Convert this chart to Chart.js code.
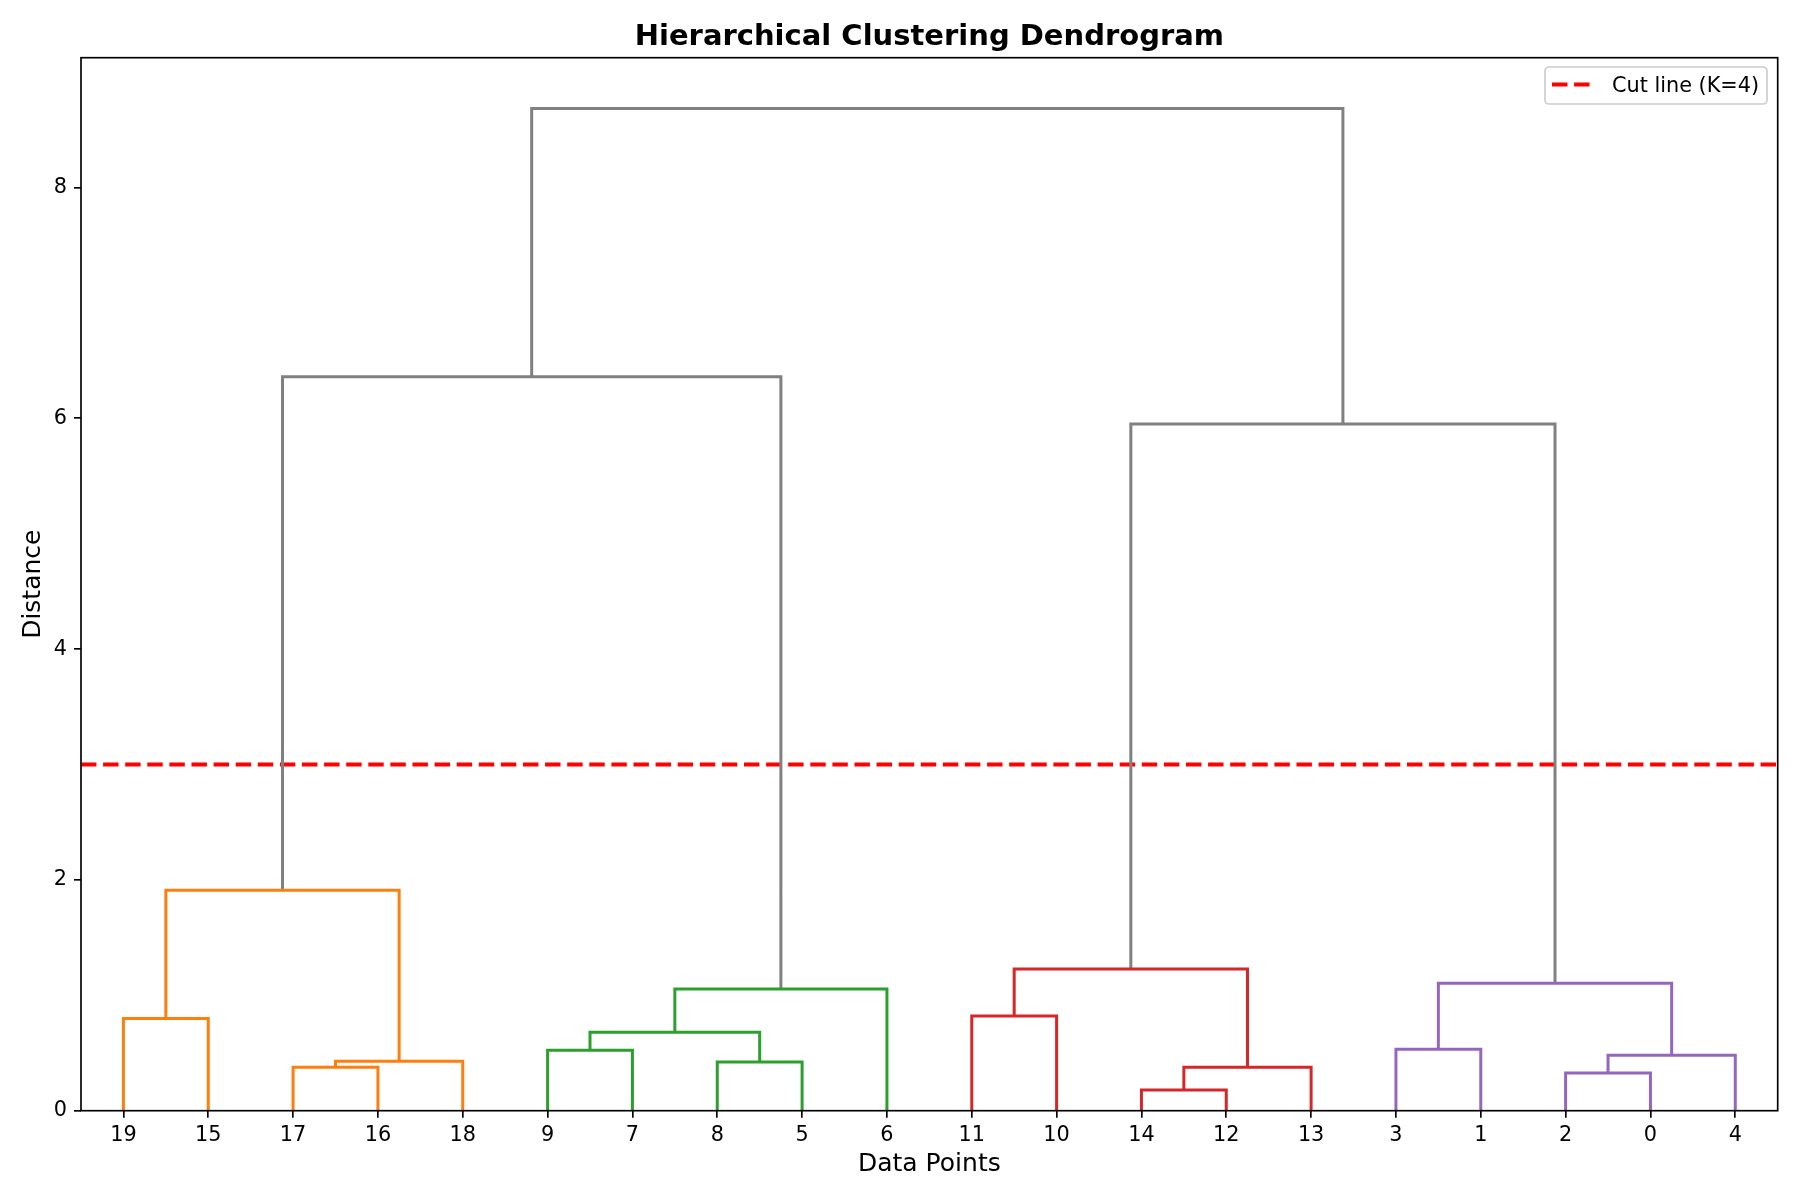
<!DOCTYPE html>
<html>
<head>
<meta charset="utf-8">
<title>Hierarchical Clustering Dendrogram</title>
<script src="https://cdn.jsdelivr.net/npm/chart.js@4.4.1/dist/chart.umd.min.js"></script>
<style>
  html, body { margin: 0; padding: 0; background: #fff; }
  #wrap { width: 1800px; height: 1200px; }
</style>
</head>
<body>
<div id="wrap"><canvas id="dendro" width="1800" height="1200"></canvas></div>
<script>
// leaf order along the x axis (as shown)
const leafLabels = ["19", "15", "17", "16", "18", "9", "7", "8", "5", "6",
                    "11", "10", "14", "12", "13", "3", "1", "2", "0", "4"];

// merges: left child, right child, height, colour group  ("cN" = result of merge N)
const mergeLeft   = ["14", "2",  "17", "c0", "8",  "c2", "c1", "9",  "3",  "c7",
                     "19", "11", "c9", "c8", "c11", "c10", "c14", "c15", "c17"];
const mergeRight  = ["12", "0",  "16", "13", "5",  "18", "4",  "7",  "1",  "c4",
                     "15", "10", "6",  "c6", "c3",  "c5",  "c13", "c12", "c16"];
const mergeHeight = [0.179, 0.327, 0.376, 0.377, 0.422, 0.428, 0.480, 0.523, 0.532, 0.679,
                     0.80, 0.82, 1.055, 1.104, 1.228, 1.91, 5.95, 6.36, 8.685];
const mergeGroup  = ["red", "purple", "orange", "red", "green", "orange", "purple", "green", "purple", "green",
                     "orange", "red", "green", "purple", "red", "orange", "gray", "gray", "gray"];

// cut line
const cutHeight = 3;
const cutLabel = "Cut line (K=4)";

const yTicks = [0, 2, 4, 6, 8];
const yMax = 9.125;

const groupColors = {
    orange: "#ff7f0e",
    green: "#2ca02c",
    red: "#d62728",
    purple: "#9467bd",
    gray: "#808080"
};

const FONT = "'DejaVu Sans', 'Liberation Sans', sans-serif";

// leaves sit at 5, 15, 25 ... like scipy does
const nodeX = {};
const nodeY = {};
leafLabels.forEach((lab, i) => {
    nodeX[lab] = 5 + 10 * i;
    nodeY[lab] = 0;
});

const datasets = [];
mergeLeft.forEach((l, i) => {
    const r = mergeRight[i];
    const h = mergeHeight[i];
    const id = "c" + i;
    nodeX[id] = (nodeX[l] + nodeX[r]) / 2;
    nodeY[id] = h;
    datasets.push({
        label: "link " + id,
        data: [
            { x: nodeX[l], y: nodeY[l] },
            { x: nodeX[l], y: h },
            { x: nodeX[r], y: h },
            { x: nodeX[r], y: nodeY[r] }
        ],
        showLine: true,
        borderColor: groupColors[mergeGroup[i]],
        borderWidth: 3,
        pointRadius: 0,
        tension: 0,
        borderCapStyle: "butt",
        borderJoinStyle: "miter"
    });
});

// horizontal cut line
datasets.push({
    label: cutLabel,
    data: [{ x: 0, y: cutHeight }, { x: leafLabels.length * 10, y: cutHeight }],
    showLine: true,
    borderColor: "#ff0000",
    borderWidth: 4.2,
    borderDash: [15.4, 6.7],
    pointRadius: 0
});

// title, frame and legend box, drawn like matplotlib
const decoPlugin = {
    id: "deco",
    afterDraw(chart) {
        const ctx = chart.ctx;
        const a = chart.chartArea;
        ctx.save();

        // axes frame
        ctx.strokeStyle = "#000";
        ctx.lineWidth = 1.67;
        ctx.strokeRect(a.left, a.top, a.right - a.left, a.bottom - a.top);

        // title
        ctx.fillStyle = "#000";
        ctx.font = "bold 29px " + FONT;
        ctx.textAlign = "center";
        ctx.textBaseline = "alphabetic";
        ctx.fillText("Hierarchical Clustering Dendrogram", (a.left + a.right) / 2, 45);

        // legend
        const bx = 1545, by = 67, bw = 222, bh = 37, rad = 4;
        ctx.beginPath();
        ctx.moveTo(bx + rad, by);
        ctx.arcTo(bx + bw, by, bx + bw, by + bh, rad);
        ctx.arcTo(bx + bw, by + bh, bx, by + bh, rad);
        ctx.arcTo(bx, by + bh, bx, by, rad);
        ctx.arcTo(bx, by, bx + bw, by, rad);
        ctx.closePath();
        ctx.fillStyle = "rgba(255,255,255,0.8)";
        ctx.fill();
        ctx.strokeStyle = "#cccccc";
        ctx.lineWidth = 1.67;
        ctx.stroke();

        const cut = chart.data.datasets[chart.data.datasets.length - 1];
        ctx.beginPath();
        ctx.setLineDash(cut.borderDash);
        ctx.strokeStyle = cut.borderColor;
        ctx.lineWidth = cut.borderWidth;
        ctx.moveTo(1552, 84.5);
        ctx.lineTo(1593, 84.5);
        ctx.stroke();
        ctx.setLineDash([]);

        ctx.fillStyle = "#000";
        ctx.font = "20.8px " + FONT;
        ctx.textAlign = "left";
        ctx.fillText(cut.label, 1612, 92);

        ctx.restore();
    }
};

new Chart(document.getElementById("dendro"), {
    type: "scatter",
    data: { datasets: datasets },
    options: {
        responsive: false,
        animation: false,
        layout: { padding: { top: 57.7, right: 22.3, bottom: 0, left: 0 } },
        plugins: {
            legend: { display: false },
            title: { display: false },
            tooltip: { enabled: false }
        },
        scales: {
            x: {
                type: "linear",
                min: 0,
                max: leafLabels.length * 10,
                afterFit(scale) { scale.height = 89.3; },
                afterBuildTicks(scale) {
                    scale.ticks = leafLabels.map((lab, i) => ({ value: 5 + 10 * i }));
                },
                ticks: {
                    autoSkip: false,
                    maxRotation: 0,
                    padding: 5,
                    color: "#000",
                    font: { family: FONT, size: 20.8 },
                    callback: (value) => leafLabels[Math.round((value - 5) / 10)]
                },
                grid: {
                    drawOnChartArea: false,
                    drawTicks: true,
                    tickLength: 7,
                    color: "#000",
                    lineWidth: 1.67
                },
                border: { display: false },
                title: {
                    display: true,
                    text: "Data Points",
                    color: "#000",
                    font: { family: FONT, size: 25 },
                    padding: { top: 0, bottom: 21 }
                }
            },
            y: {
                type: "linear",
                min: 0,
                max: yMax,
                afterFit(scale) { scale.width = 81; },
                afterBuildTicks(scale) {
                    scale.ticks = yTicks.map(v => ({ value: v }));
                },
                ticks: {
                    padding: 7,
                    color: "#000",
                    font: { family: FONT, size: 20.8 }
                },
                grid: {
                    drawOnChartArea: false,
                    drawTicks: true,
                    tickLength: 7,
                    color: "#000",
                    lineWidth: 1.67
                },
                border: { display: false },
                title: {
                    display: true,
                    text: "Distance",
                    color: "#000",
                    font: { family: FONT, size: 25 },
                    padding: { top: 18, bottom: 0 }
                }
            }
        }
    },
    plugins: [decoPlugin]
});
</script>
</body>
</html>
